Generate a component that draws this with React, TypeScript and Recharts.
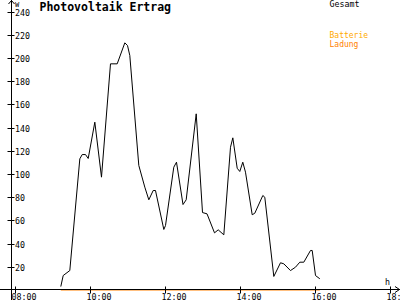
import { LineChart, Line, XAxis, YAxis } from "recharts";

// PV output, hours of day -> watts
const times = [
  9.2, 9.264, 9.44, 9.707, 9.771, 9.859, 9.931, 10.107, 10.285, 10.525, 10.704,
  10.907, 10.979, 11.04, 11.28, 11.44, 11.547, 11.664, 11.725, 11.947, 11.992,
  12.213, 12.285, 12.459, 12.544, 12.811, 12.979, 13.099, 13.299, 13.397, 13.547,
  13.725, 13.787, 13.904, 13.973, 14.053, 14.125, 14.304, 14.373, 14.587, 14.64,
  14.88, 15.059, 15.147, 15.325, 15.459, 15.573, 15.68, 15.859, 15.904, 15.992,
  16.107,
];
const watts = [
  3.4, 12.9, 17.2, 113.5, 117.2, 117.2, 113.8, 145.1, 97.7, 195.4, 195.4,
  213.5, 211.2, 202.6, 107.8, 89.1, 78.2, 86.2, 86.2, 52.6, 56,
  106.3, 110.6, 74.1, 78.2, 152.3, 67.2, 66.1, 49.7, 52.3, 48,
  123.5, 131.6, 105.4, 102.6, 110.6, 102, 65.3, 66.6, 81.9, 80.4,
  12.1, 23.9, 23, 17.2, 20.1, 24.4, 24.4, 34.5, 34.5, 12.9,
  10.1,
];
const batteryTimes = [9.2, 16.107];
const batteryWatts = [0, 0];

const xTicks = [8, 10, 12, 14, 16, 18];
const yTicks = [20, 40, 60, 80, 100, 120, 140, 160, 180, 200, 220, 240];

const total = times.map((t, i) => ({ t, w: watts[i] }));
const battery = batteryTimes.map((t, i) => ({ t, b: batteryWatts[i] }));

const FONT = "'DejaVu Sans Mono', monospace";
const crisp = (v: number) => Math.round(v - 0.5) + 0.5;

const fmtHour = (h: number) => `${String(h).padStart(2, "0")}:00`;

function XTick(props: any) {
  const { x, y, payload } = props;
  const cx = crisp(x);
  return (
    <g>
      <line x1={cx} x2={cx} y1={y - 4} y2={y + 3} stroke="#000" />
      <text x={cx - 4} y={y + 9} fontSize={8.3} fontFamily={FONT} fill="#000">
        {fmtHour(payload.value)}
      </text>
    </g>
  );
}

function YTick(props: any) {
  const { x, y, payload } = props;
  const cy = crisp(y);
  return (
    <g>
      <line x1={x - 3.5} x2={x + 3.5} y1={cy} y2={cy} stroke="#000" />
      <text x={x + 4} y={cy + 3} fontSize={8.3} fontFamily={FONT} fill="#000">
        {payload.value}
      </text>
    </g>
  );
}

export default function App() {
  return (
    <div style={{ position: "absolute", left: 0, top: 0, width: 400, height: 300, background: "#fff" }}>
      <LineChart width={400} height={300} margin={{ top: 0, right: 0, bottom: 0, left: 0 }}>
        <XAxis
          type="number"
          dataKey="t"
          domain={[7.872, 18.2453]}
          ticks={xTicks}
          allowDataOverflow
          height={9.5}
          axisLine={false}
          tickLine={false}
          tickSize={0}
          tickMargin={0}
          tick={<XTick />}
          interval={0}
        />
        <YAxis
          type="number"
          domain={[0, 250.43]}
          ticks={yTicks}
          allowDataOverflow
          width={11}
          axisLine={false}
          tickLine={false}
          tickSize={0}
          tickMargin={0}
          tick={<YTick />}
          interval={0}
        />
        <Line data={total} dataKey="w" type="linear" stroke="#000" strokeWidth={1} dot={false} isAnimationActive={false} />
        <Line data={battery} dataKey="b" type="linear" stroke="#ff8000" strokeWidth={1} dot={false} isAnimationActive={false} />
      </LineChart>
      <svg
        width={400}
        height={300}
        style={{ position: "absolute", left: 0, top: 0, pointerEvents: "none" }}
      >
        {/* axes with arrow heads */}
        <line x1={11.5} x2={11.5} y1={0} y2={300} stroke="#000" />
        <polyline points="8.5,4 11.5,0.5 14.5,4" fill="none" stroke="#000" />
        <line x1={0} x2={400} y1={289.5} y2={289.5} stroke="#000" />
        <polyline points="395,286.5 399.5,289.5 395,292.5" fill="none" stroke="#000" />
        <text x={15} y={7} fontSize={7} fontFamily={FONT} fill="#000">W</text>
        <text x={385} y={284.5} fontSize={8.3} fontFamily={FONT} fill="#000">h</text>
        <text x={39.5} y={11} fontSize={11.5} fontWeight="bold" fontFamily={FONT} fill="#000">
          Photovoltaik Ertrag
        </text>
        <text x={329.5} y={7} fontSize={8.3} fontFamily={FONT} fill="#000">Gesamt</text>
        <text x={329.5} y={38} fontSize={8} fontFamily={FONT} fill="#ffaa00">Batterie</text>
        <text x={329.5} y={46.5} fontSize={8} fontFamily={FONT} fill="#ff8000">Ladung</text>
      </svg>
    </div>
  );
}
